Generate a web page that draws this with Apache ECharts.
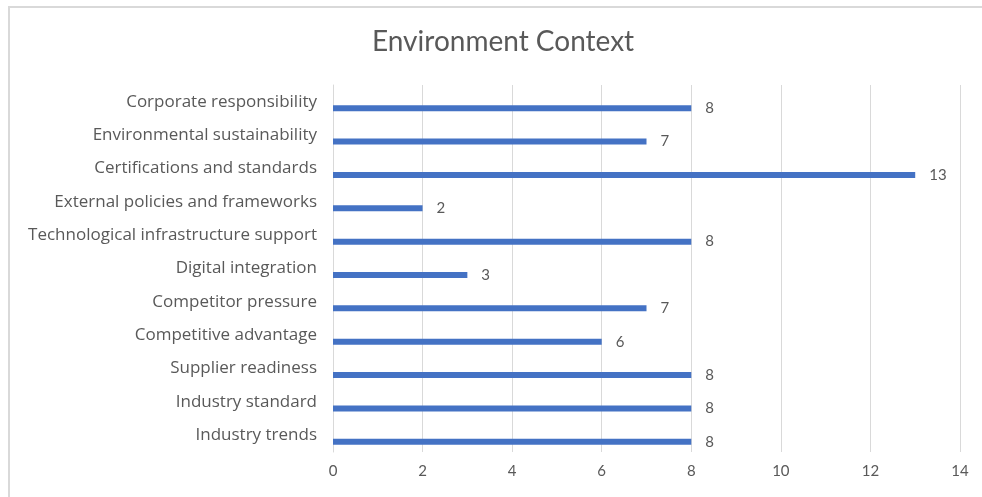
<!DOCTYPE html>
<html>
<head>
<meta charset="utf-8">
<script src="https://cdn.jsdelivr.net/npm/echarts@6/dist/echarts.min.js"></script>
<style>
  html, body { margin: 0; padding: 0; background: #ffffff; }
  #chart { width: 982px; height: 497px; }
</style>
</head>
<body>
<div id="chart"></div>
<script>
// Factors listed top to bottom, with the number of mentions for each
const categories = [
  'Corporate responsibility',
  'Environmental sustainability',
  'Certifications and standards',
  'External policies and frameworks',
  'Technological infrastructure support',
  'Digital integration',
  'Competitor pressure',
  'Competitive advantage',
  'Supplier readiness',
  'Industry standard',
  'Industry trends'
];
const counts = [8, 7, 13, 2, 8, 3, 7, 6, 8, 8, 8];
const xTicks = [0, 2, 4, 6, 8, 10, 12, 14];

const textColor = '#595959';
const gridColor = '#d9d9d9';
const barColor = '#4472c4';
const font = 'Lato, "Open Sans", sans-serif';
const labelFont = '"Open Sans", Lato, sans-serif';

const chart = echarts.init(document.getElementById('chart'), null, { renderer: 'canvas' });

chart.setOption({
  animation: false,
  backgroundColor: '#ffffff',
  title: {
    text: 'Environment Context',
    left: 367,
    top: 23,
    textStyle: { color: textColor, fontFamily: font, fontWeight: 'normal', fontSize: 28 }
  },
  graphic: [{
    type: 'rect',
    shape: { x: 9, y: 7, width: 990, height: 500 },
    style: { fill: 'none', stroke: '#d9d9d9', lineWidth: 2 },
    silent: true
  }],
  grid: { left: 333, right: 22, top: 85, bottom: 45, containLabel: false },
  xAxis: {
    type: 'value',
    min: xTicks[0],
    max: xTicks[xTicks.length - 1],
    interval: 2,
    axisLine: { show: false },
    axisTick: { show: false },
    splitLine: { show: true, lineStyle: { color: gridColor, width: 1 } },
    axisLabel: { color: textColor, fontFamily: font, fontSize: 15, margin: 12 }
  },
  yAxis: {
    type: 'category',
    data: categories,
    inverse: true,
    axisLine: { show: true, lineStyle: { color: gridColor } },
    axisTick: { show: false },
    axisLabel: { color: textColor, fontFamily: labelFont, fontSize: 17, margin: 16 }
  },
  series: [
    {
      // empty companion series, keeps the drawn bars in the lower half of each row
      type: 'bar',
      data: [],
      barWidth: 6,
      barGap: '117%'
    },
    {
      type: 'bar',
      data: counts,
      barWidth: 6,
      barGap: '117%',
      itemStyle: { color: barColor },
      label: {
        show: true,
        position: 'right',
        distance: 14,
        color: textColor,
        fontFamily: font,
        fontSize: 15
      }
    }
  ]
});
</script>
</body>
</html>
